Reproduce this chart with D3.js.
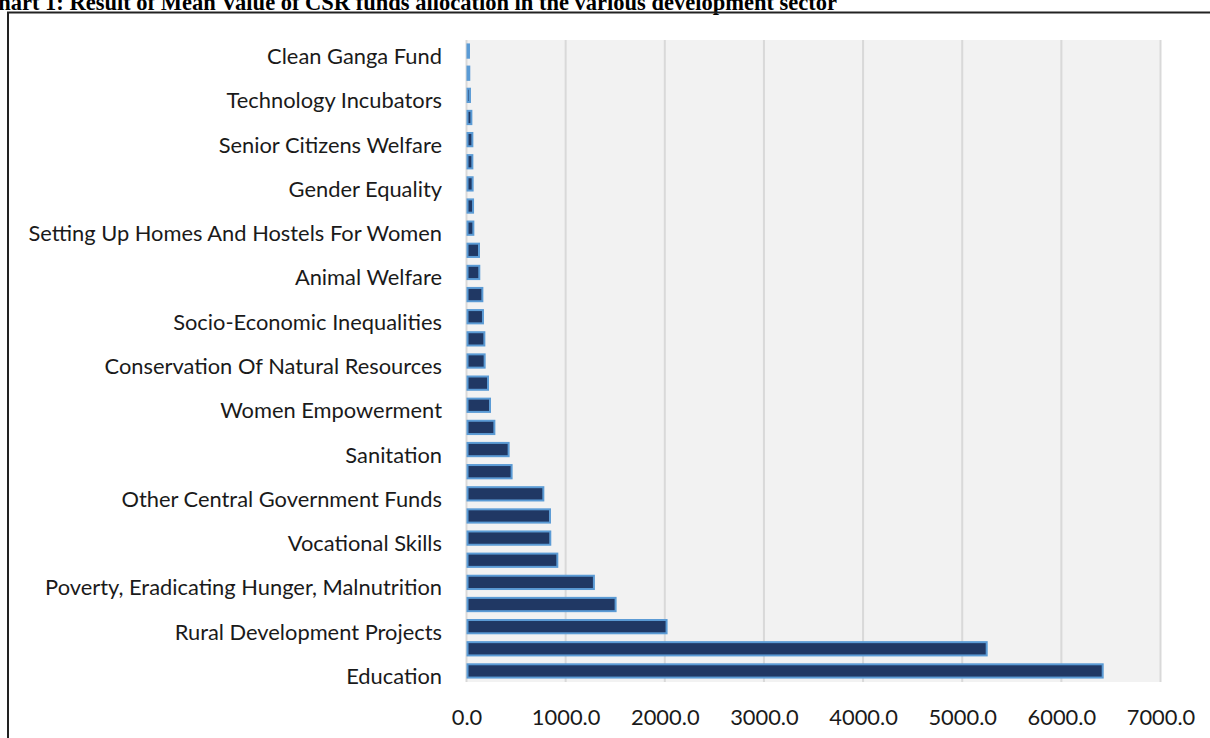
<!DOCTYPE html>
<html>
<head>
<meta charset="utf-8">
<script src="https://cdn.jsdelivr.net/npm/d3@7"></script>
<style>
  html, body { margin: 0; padding: 0; background: #ffffff; overflow: hidden; }
  svg { display: block; }
</style>
</head>
<body>
<svg id="chart" width="1210" height="738"></svg>
<script>
// ---- Data (top of chart to bottom) ----
const categories = [
  "Clean Ganga Fund",
  "Reducing Child Mortality",
  "Technology Incubators",
  "Armed Forces Veterans",
  "Senior Citizens Welfare",
  "Slum Area Development",
  "Gender Equality",
  "Agro Forestry",
  "Setting Up Homes And Hostels For Women",
  "Protection Of National Heritage",
  "Animal Welfare",
  "Training To Promote Sports",
  "Socio-Economic Inequalities",
  "Prime Minister's National Relief Fund",
  "Conservation Of Natural Resources",
  "Art And Culture",
  "Women Empowerment",
  "Safe Drinking Water",
  "Sanitation",
  "Swachh Bharat Kosh",
  "Other Central Government Funds",
  "Special Education",
  "Vocational Skills",
  "Livelihood Enhancement Projects",
  "Poverty, Eradicating Hunger, Malnutrition ",
  "Environmental Sustainability",
  "Rural Development Projects",
  "Health Care",
  "Education"
];
const meanValues = [
  25, 28, 35, 49, 59, 59, 62, 66, 69, 126,
  129, 160, 166, 180, 183, 217, 237, 281, 425, 455,
  775, 842, 845, 916, 1285, 1504, 2018, 5247, 6417
];
// categories whose labels are displayed on the axis (every other one)
const shownLabels = [
  "Clean Ganga Fund", "Technology Incubators", "Senior Citizens Welfare",
  "Gender Equality", "Setting Up Homes And Hostels For Women", "Animal Welfare",
  "Socio-Economic Inequalities", "Conservation Of Natural Resources",
  "Women Empowerment", "Sanitation", "Other Central Government Funds",
  "Vocational Skills", "Poverty, Eradicating Hunger, Malnutrition ",
  "Rural Development Projects", "Education"
];
const xTicks = [0, 1000, 2000, 3000, 4000, 5000, 6000, 7000];
const titleText = "Chart 1: Result of Mean Value of CSR funds allocation in the various development sector";

// ---- Layout ----
const svg = d3.select("#chart");
const plot = { left: 466.5, right: 1160.5, top: 40, bottom: 682 };
const labelFont = "Lato, 'Open Sans', sans-serif";

// Title (partly cut at the top, as in the reference)
svg.append("text")
  .attr("x", 837).attr("y", 10)
  .attr("text-anchor", "end")
  .attr("font-family", "'Liberation Serif', 'Times New Roman', serif")
  .attr("font-weight", "bold")
  .attr("font-size", 22.5)
  .attr("fill", "#000")
  .text(titleText);

// Frame
svg.append("path")
  .attr("d", "M8,740 L8,12.5 L1212,12.5")
  .attr("fill", "none")
  .attr("stroke", "#222")
  .attr("stroke-width", 2);

const x = d3.scaleLinear().domain([0, 7000]).range([plot.left, plot.right]);
const y = d3.scaleBand().domain(categories).range([plot.top, plot.bottom]).paddingInner(0.4).paddingOuter(0.2);

// Plot background
svg.append("rect")
  .attr("x", plot.left).attr("y", plot.top)
  .attr("width", plot.right - plot.left).attr("height", plot.bottom - plot.top)
  .attr("fill", "#f2f2f2");

// Gridlines
svg.append("g").selectAll("line").data(xTicks).join("line")
  .attr("x1", d => x(d)).attr("x2", d => x(d))
  .attr("y1", plot.top).attr("y2", plot.bottom)
  .attr("stroke", "#d9d9d9").attr("stroke-width", 2);

// Bars
svg.append("g").selectAll("rect").data(categories).join("rect")
  .attr("x", x(0) + 1)
  .attr("y", d => y(d))
  .attr("width", (d, i) => Math.max(0.5, x(meanValues[i]) - x(0) - 1))
  .attr("height", y.bandwidth())
  .attr("fill", "#203864")
  .attr("stroke", "#5b9bd5")
  .attr("stroke-width", 2);

// Y axis labels
const yAxis = d3.axisLeft(y).tickValues(shownLabels).tickSize(0).tickPadding(0);
const yG = svg.append("g").attr("transform", `translate(442,6)`).call(yAxis);
yG.select(".domain").remove();
yG.selectAll("text")
  .attr("font-family", labelFont)
  .attr("fill", "#1a1a1a")
  .attr("font-size", 20);
// fit the longest label width to the reference (about 414px)
const longest = yG.selectAll("text").filter(d => d.startsWith("Setting Up")).node();
if (longest) {
  const w = longest.getComputedTextLength();
  const fs = 20 * 414 / w;
  yG.selectAll("text").attr("font-size", fs);
}

// X axis
const xAxis = d3.axisBottom(x).tickValues(xTicks).tickFormat(d3.format(".1f")).tickSize(0).tickPadding(0);
const xG = svg.append("g").attr("transform", `translate(0,725)`).call(xAxis);
xG.select(".domain").remove();
xG.selectAll("text")
  .attr("font-family", labelFont)
  .attr("fill", "#1a1a1a")
  .attr("font-size", yG.select("text").attr("font-size"))
  .attr("dy", "0");
</script>
</body>
</html>
